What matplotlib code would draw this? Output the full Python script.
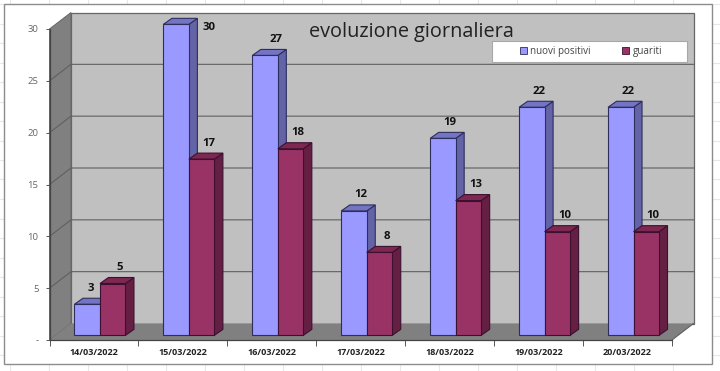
import matplotlib
matplotlib.use("Agg")
import matplotlib.pyplot as plt
from matplotlib.patches import Polygon, Rectangle, Patch
from matplotlib.lines import Line2D

dates = ["14/03/2022", "15/03/2022", "16/03/2022", "17/03/2022",
         "18/03/2022", "19/03/2022", "20/03/2022"]
nuovi_positivi = [3, 30, 27, 12, 19, 22, 22]
guariti = [5, 17, 18, 8, 13, 10, 10]
y_ticks = [0, 5, 10, 15, 20, 25, 30]
y_tick_labels = ["-", "5", "10", "15", "20", "25", "30"]
title = "evoluzione giornaliera"

W, H = 720, 371
FONT = "Open Sans"
fig = plt.figure(figsize=(W / 100, H / 100), dpi=100, facecolor="white")


def fx(px):
    return px / W


def fy(py):
    return 1 - py / H


# faint spreadsheet cells around the chart, and the chart frame
for k in range(18):
    x = 10 + 39 * k
    for a, b in ((0, 4), (364, 371)):
        fig.add_artist(Line2D([fx(x), fx(x)], [fy(a), fy(b)], color="#e8e8e8", lw=0.8, zorder=-2))
for k in range(19):
    y = 4 + 19.5 * k
    for a, b in ((0, 3.5), (712, 720)):
        fig.add_artist(Line2D([fx(a), fx(b)], [fy(y), fy(y)], color="#e8e8e8", lw=0.8, zorder=-2))
fig.add_artist(Rectangle((fx(3.5), fy(364)), fx(708.5), 360 / H, transform=fig.transFigure,
                         facecolor="white", edgecolor="#8c8c8c", lw=1, zorder=-1))

# front plane of the 3D box: x 49.5..672, y 29..340 in pixels
ax = fig.add_axes([fx(49.5), fy(340), fx(622.5), 311 / H])
ax.patch.set_visible(False)
ax.set_xlim(-0.5, 6.5)
ax.set_ylim(0, 30)
for s in ("top", "right"):
    ax.spines[s].set_visible(False)
for s in ("left", "bottom"):
    ax.spines[s].set_color("#444444")
    ax.spines[s].set_linewidth(0.9)
    ax.spines[s].set_zorder(2.5)

ux = 622.5 / 7   # pixels per category
uy = 311 / 30    # pixels per unit
DX, DY = 21.5 / ux, 16.5 / uy      # wall depth
dx, dy = 8.5 / ux, 6.0 / uy        # bar depth
x0, x1 = -0.5, 6.5
top = 30

# walls and floor
ax.add_patch(Polygon([(x0 + DX, 0 + DY), (x1 + DX, DY), (x1 + DX, top + DY), (x0 + DX, top + DY)],
                     closed=True, fc="#c0c0c0", ec="#666666", lw=0.9, zorder=1, clip_on=False))
ax.add_patch(Polygon([(x0, 0), (x0 + DX, DY), (x0 + DX, top + DY), (x0, top)],
                     closed=True, fc="#808080", ec="#666666", lw=0.7, zorder=1.1, clip_on=False))
ax.add_patch(Polygon([(x0, 0), (x1, 0), (x1 + DX, DY), (x0 + DX, DY)],
                     closed=True, fc="#808080", ec="none", zorder=1.1, clip_on=False))
for v in y_ticks[1:-1]:
    ax.plot([x0, x0 + DX, x1 + DX], [v, v + DY, v + DY], color="#606060", lw=0.8,
            zorder=1.2, clip_on=False)
ax.plot([x1, x1 + DX], [0, DY], color="#606060", lw=0.8, zorder=1.2, clip_on=False)

# bars
bw = 25.5 / ux
split = 6.0 / ux
base = 0.45
EDGE = "#2e2e5c"
series = [
    (nuovi_positivi, "nuovi positivi", -1, "#9999ff", "#7474c4", "#6363a8", EDGE, 3),
    (guariti, "guariti", 0, "#993366", "#7e2750", "#651f42", "#3c1030", 4),
]
pad_x = {(0, 1): 33 - 7, (0, 2): 4, (0, 0): -3}
pad_y = {(0, 1): -19}
for si, (vals, name, side, front, topc, sidec, edge, z) in enumerate(series):
    xs = [i + split + (side + 0.5) * bw for i in range(len(vals))]
    ax.bar(xs, vals, width=bw, bottom=base, color=front, edgecolor=edge, lw=0.8,
           zorder=z + 0.2, label=name, clip_on=False)
    for i, (xc, v) in enumerate(zip(xs, vals)):
        l, r, b, t = xc - bw / 2, xc + bw / 2, base, base + v
        ax.add_patch(Polygon([(r, b), (r + dx, b + dy), (r + dx, t + dy), (r, t)], closed=True,
                             fc=sidec, ec=edge, lw=0.8, zorder=z, clip_on=False))
        ax.add_patch(Polygon([(l, t), (r, t), (r + dx, t + dy), (l + dx, t + dy)], closed=True,
                             fc=topc, ec=edge, lw=0.8, zorder=z, clip_on=False))
        ox = 7 + pad_x.get((si, i), 0)
        oy = 16 + pad_y.get((si, i), 0)
        ax.annotate(str(v), (xc, base + v), xytext=(ox * 0.72, oy * 0.72),
                    textcoords="offset points", ha="center", va="center", fontsize=8.2,
                    fontweight="bold", family=FONT, color="#111111", zorder=6, annotation_clip=False)

# axes
ax.set_yticks(y_ticks)
ax.set_yticklabels(y_tick_labels, fontsize=6.8, family=FONT, color="#666666")
ax.tick_params(axis="y", length=3, width=0.7, color="#555555", pad=5)
ax.set_xticks([i - 0.5 for i in range(len(dates) + 1)])
ax.set_xticklabels([])
ax.tick_params(axis="x", which="major", length=4, width=0.7, color="#555555")
ax.set_xticks(range(len(dates)), minor=True)
ax.set_xticklabels(dates, minor=True, fontsize=6.5, fontweight="bold", family=FONT, color="#222222")
ax.tick_params(axis="x", which="minor", length=0, pad=6)

# title and legend
fig.text(fx(411), fy(31.5), title, ha="center", va="center", fontsize=14.3, family="Open Sans",
         color="#222222", zorder=10)
fig.add_artist(Rectangle((fx(492), fy(62)), fx(195), 21 / H, transform=fig.transFigure,
                         facecolor="white", edgecolor="#a8a8a8", lw=0.8, zorder=8))
handles = [Patch(fc=s[3], ec=s[6], lw=0.6, label=s[1]) for s in series]
leg = fig.legend(handles=handles, loc="center", bbox_to_anchor=(fx(591), fy(51.5)), ncols=2, frameon=False,
                 handlelength=0.7, handleheight=0.7, handletextpad=0.35,
                 columnspacing=3.2, prop={"family": FONT, "size": 7.1})
leg.set_zorder(9)
for t in leg.get_texts():
    t.set_color("#444444")

fig.savefig("out.png", dpi=100)
